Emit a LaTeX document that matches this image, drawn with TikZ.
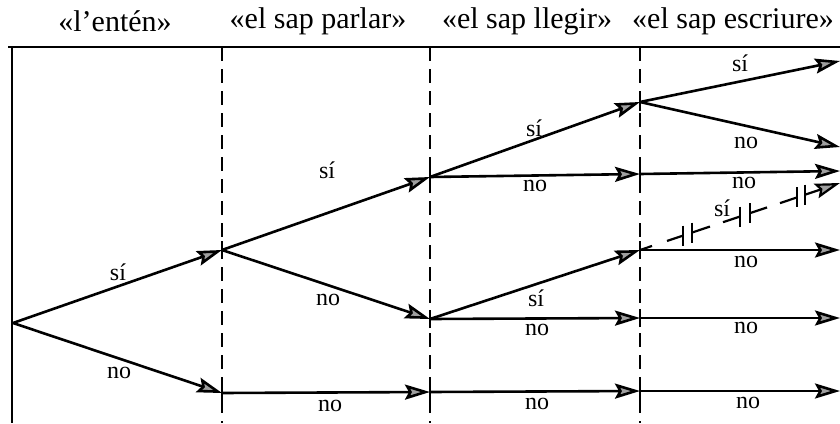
\documentclass[tikz,border=0pt]{standalone}
\usepackage{fontspec}
\setmainfont{Liberation Serif}
\usetikzlibrary{arrows.meta,calc}
\begin{document}
\begin{tikzpicture}[x=1pt,y=-1pt,
  tip/.tip={Stealth[length=25pt,width=15pt,inset=4pt,fill=gray!75]},
  arr/.style={line width=2.6pt,-tip},
  seg/.style={line width=2.2pt},
  divider/.style={line width=2.2pt,dash pattern=on 14pt off 8pt},
  frame/.style={line width=2.2pt},
  tick/.style={line width=2.2pt},
  hdr/.style={font=\fontsize{30}{32}\selectfont,inner sep=0pt},
  lab/.style={font=\fontsize{24}{26}\selectfont,inner sep=0pt}]
\useasboundingbox (0,0) rectangle (840,423);

% headers
\node[hdr] (h1) at (115,21) {«l'entén»};
\node[hdr] (h2) at (318,21) {«el sap parlar»};
\node[hdr] (h3) at (527,21) {«el sap llegir»};
\node[hdr] (h4) at (733,21) {«el sap escriure»};

% frame
\coordinate (tl) at (12,47);
\coordinate (tr) at (840,47);
\coordinate (bl) at (12,423);
\draw[frame] (8,47) -- (tr);
\draw[frame] (tl) -- (bl);

% dividers
\foreach \x/\n in {222/a,430/b,640/c}{
  \coordinate (t\n) at (\x,47);
  \coordinate (b\n) at (\x,423);
  \draw[divider] (t\n) -- (b\n);
}

% nodes
\coordinate (r) at (13,323);
\coordinate (A) at (222,250);
\coordinate (B) at (222,393);
\coordinate (C1) at (430,177);
\coordinate (C2) at (430,319);
\coordinate (C3) at (430,392);
\coordinate (D1) at (640,102);
\coordinate (D2) at (640,174);
\coordinate (D3) at (640,250);
\coordinate (D4) at (640,318);
\coordinate (D5) at (640,391);
\coordinate (E1) at (840,61);
\coordinate (E2) at (840,147);
\coordinate (E3) at (840,171);
\coordinate (E4) at (840,183);
\coordinate (E5) at (840,250);
\coordinate (E6) at (840,318);
\coordinate (E7) at (840,391);

% junction ticks
\foreach \p in {A,B,C1,C2,C3,D1,D2,D3,D4,D5}{
  \draw[tick] ([yshift=-9pt]\p) -- ([yshift=9pt]\p);
}

% arrows
\draw[arr] (r) -- (A);
\draw[arr] (r) -- (B);
\draw[arr] (A) -- (C1);
\draw[arr] (A) -- (C2);
\draw[arr] (B) -- (C3);
\draw[arr] (C1) -- (D1);
\draw[arr] (C1) -- (D2);
\draw[arr] (C2) -- (D3);
\draw[arr] (C2) -- (D4);
\draw[arr] (C3) -- (D5);
\draw[arr] (D1) -- (E1);
\draw[arr] (D1) -- (E2);
\draw[arr] (D2) -- (E3);
\draw[arr] (D3) -- (E5);
\draw[arr] (D4) -- (E6);
\draw[arr] (D5) -- (E7);

% interrupted "si" arrow from D3 to E4
\foreach \a/\b in {0/0.06,0.135/0.215,0.26/0.35,0.415/0.5,0.55/0.635,0.7/0.785}{
  \draw[seg] ($(D3)!\a!(E4)$) -- ($(D3)!\b!(E4)$);
}
\draw[seg,-tip] ($(D3)!0.825!(E4)$) -- (E4);
\foreach \t in {0.215,0.26,0.5,0.55,0.785,0.825}{
  \draw[tick] ($(D3)!\t!(E4)+(0,-10)$) -- ($(D3)!\t!(E4)+(0,10)$);
}

% labels
\node[lab] (l1) at (118,272) {sí};
\node[lab] (l2) at (119,373) {no};
\node[lab] (l3) at (327,170) {sí};
\node[lab] (l4) at (328,300) {no};
\node[lab] (l5) at (330,406) {no};
\node[lab] (l6) at (534,128) {sí};
\node[lab] (l7) at (535,186) {no};
\node[lab] (l8) at (536,298) {sí};
\node[lab] (l9) at (537,330) {no};
\node[lab] (l10) at (537,404) {no};
\node[lab] (l11) at (740,63) {sí};
\node[lab] (l12) at (746,143) {no};
\node[lab] (l13) at (744,183) {no};
\node[lab] (l14) at (722,208) {sí};
\node[lab] (l15) at (746,262) {no};
\node[lab] (l16) at (746,328) {no};
\node[lab] (l17) at (748,403) {no};
\end{tikzpicture}
\end{document}
